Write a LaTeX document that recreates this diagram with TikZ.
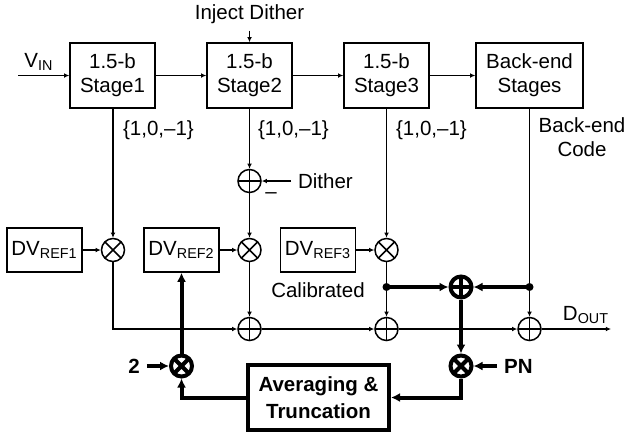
\documentclass[tikz,border=0pt]{standalone}
\usepackage{fontspec}
\setmainfont{Liberation Sans}
\usetikzlibrary{arrows.meta, positioning, calc}

\tikzset{
  blk/.style={draw, line width=0.75pt, minimum width=42.5pt, minimum height=32.5pt,
    align=center, inner sep=1pt},
  dvblk/.style={draw, line width=0.75pt, minimum width=37.5pt, minimum height=22pt, inner sep=1pt},
  sumc/.style={circle, draw, line width=#1, minimum size=11.5pt, inner sep=0pt,
    path picture={\draw[line width=#1] (path picture bounding box.north) -- (path picture bounding box.south)
      (path picture bounding box.west) -- (path picture bounding box.east);}},
  sumc/.default=0.75pt,
  mulc/.style={circle, draw, line width=#1, minimum size=11.5pt, inner sep=0pt,
    path picture={\draw[line width=#1] (path picture bounding box.north west) -- (path picture bounding box.south east)
      (path picture bounding box.south west) -- (path picture bounding box.north east);}},
  mulc/.default=0.75pt,
  dot/.style={circle, fill, inner sep=0pt, minimum size=4pt},
  sig/.style={line width=0.75pt, -{Latex[length=2.6pt,width=2.4pt]}},
  wire/.style={line width=0.75pt},
  bus/.style={line width=2pt, -{Latex[length=4.5pt,width=4.5pt]}},
}

\begin{document}
\begin{tikzpicture}[x=0.5pt, y=-0.5pt, font=\fontsize{10.25}{12}\selectfont]
  \useasboundingbox (0,0) rectangle (624,434);
  % pipeline stages
  \node[blk] (s1) at (112.5,75.5) {1.5-b\\Stage1};
  \node[blk] (s2) at (249.5,75.5) {1.5-b\\Stage2};
  \node[blk] (s3) at (386.5,75.5) {1.5-b\\Stage3};
  \node[blk, minimum width=53.5pt] (be) at (529.5,75.5) {Back-end\\Stages};
  \coordinate (vin) at (18,75.5);
  \node (vinlbl) at (39,62) {V\textsubscript{IN}};
  \node (inj) at (249.5,14) {Inject Dither};
  \draw[sig] (vin) -- (s1);
  \draw[sig] (s1) -- (s2);
  \draw[sig] (s2) -- (s3);
  \draw[sig] (s3) -- (be);
  \draw[sig] (inj.south) -- (s2.north);
  % digital codes
  \node[anchor=west] (c1) at (116,130) {\{1,0,--1\}};
  \node[anchor=west] (c2) at (251,130) {\{1,0,--1\}};
  \node[anchor=west] (c3) at (389,130) {\{1,0,--1\}};
  \node[align=center] (bec) at (582,137) {Back-end\\Code};
  % dither
  \node[sumc] (ds) at (249.5,181) {};
  \node[anchor=west] (dith) at (291,181) {Dither};
  \node (minus) at (271,196) {--};
  \draw[sig] (s2.south) -- (ds.north);
  \draw[sig] (dith.west) -- (ds.east);
  % DV references
  \node[dvblk] (dv1) at (44.5,250) {DV\textsubscript{REF1}};
  \node[dvblk] (dv2) at (181.5,250) {DV\textsubscript{REF2}};
  \node[dvblk] (dv3) at (318,250) {DV\textsubscript{REF3}};
  \node[mulc] (m1) at (113,250) {};
  \node[mulc] (m2) at (249.5,250) {};
  \node[mulc] (m3) at (386.5,250) {};
  \draw[sig] (s1.south -| m1) -- (m1.north);
  \draw[sig] (ds.south) -- (m2.north);
  \draw[sig] (s3.south) -- (m3.north);
  \draw[sig] (dv1) -- (m1);
  \draw[sig] (dv2) -- (m2);
  \draw[sig] (dv3) -- (m3);
  \node (cal) at (318,290) {Calibrated};
  % output sums
  \node[sumc] (a2) at (249.5,329) {};
  \node[sumc] (a3) at (386.5,329) {};
  \node[sumc] (a4) at (529.5,329) {};
  \node[dot] (d1) at (386.5,287) {};
  \node[dot] (d2) at (529.5,287) {};
  \node[sumc=2pt, minimum size=10.5pt] (ts) at (461,287) {};
  \coordinate (dout) at (611,329);
  \node (doutlbl) at (586,315) {D\textsubscript{OUT}};
  \draw[sig] (m1.south) |- (a2.west);
  \draw[sig] (m2) -- (a2);
  \draw[wire] (m3.south) -- (d1.center);
  \draw[sig] (d1.center) -- (a3.north);
  \draw[wire] (be.south) -- (d2.center);
  \draw[sig] (d2.center) -- (a4.north);
  \draw[sig] (a2) -- (a3);
  \draw[sig] (a3) -- (a4);
  \draw[sig] (a4) -- (dout);
  % calibration loop
  \draw[bus] (d1.center) -- (ts.west);
  \draw[bus] (d2.center) -- (ts.east);
  \node[mulc=2pt, minimum size=10.5pt] (pm) at (461,366) {};
  \node[anchor=west, font=\fontsize{10.25}{12}\selectfont\bfseries] (pn) at (497,366) {PN};
  \node[draw, line width=2pt, minimum width=70.5pt, minimum height=32.5pt, align=center,
    font=\fontsize{10.25}{13.5}\selectfont\bfseries] (avg) at (318.5,397.5) {Averaging \&\\Truncation};
  \node[mulc=2pt, minimum size=10.5pt] (lm) at (181.5,366) {};
  \node[font=\fontsize{10.25}{12}\selectfont\bfseries] (two) at (134,366) {2};
  \draw[bus] (ts) -- (pm);
  \draw[bus] (pn.west) -- (pm.east);
  \draw[bus] (pm.south) |- (avg.east);
  \draw[bus] (avg.west) -| (lm.south);
  \draw[bus] (two) -- (lm.west);
  \draw[bus] (lm) -- (dv2.south);
\end{tikzpicture}
\end{document}
